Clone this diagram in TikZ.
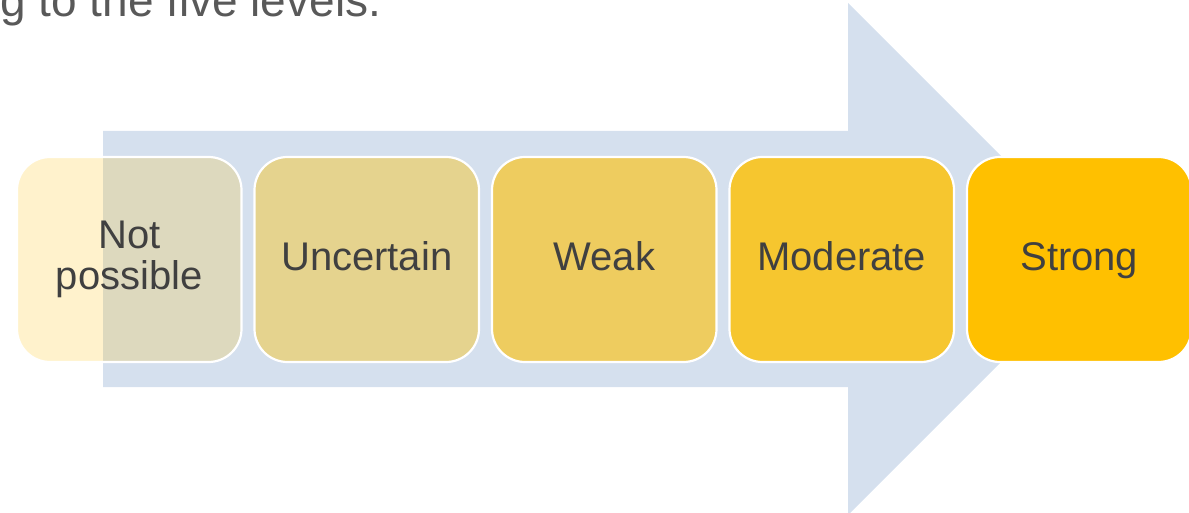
\documentclass[tikz,border=0pt]{standalone}
\usepackage{fontspec}
\setmainfont{Liberation Sans}
\definecolor{arrowblue}{HTML}{D5E0EE}
\definecolor{gold}{HTML}{FFC000}
\definecolor{txtgray}{HTML}{404040}
\definecolor{headgray}{HTML}{595959}
\begin{document}
\begin{tikzpicture}[x=1pt,y=-1pt,
  level/.style={draw=white, line width=2.2pt, fill=gold, rounded corners=33pt,
    minimum width=224.5pt, minimum height=205pt, inner sep=0pt,
    text=txtgray, text opacity=1, draw opacity=1, align=center,
    font=\fontsize{40}{41}\selectfont},
  oneline/.style={text height=28.6pt, text depth=6.4pt},
  heading/.style={text=headgray, font=\fontsize{46}{50}\selectfont, inner sep=0pt}]
\useasboundingbox (0,0) rectangle (1189,513);
\clip (0,0) rectangle (1189,513);
% big arrow
\fill[arrowblue] (103,131) -- (848,131) -- (848,3) -- (1104,259) -- (848,515)
  -- (848,387) -- (103,387) -- cycle;
% heading fragment
\node[heading, anchor=base west] (head) at (0,16.5) {g to the five levels.};
% levels
\node[level, fill opacity=0.2] (l1) at (129.25,259.5) {Not\\possible};
\node[level, oneline, fill opacity=0.4] (l2) at (366.75,259.5) {Uncertain};
\node[level, oneline, fill opacity=0.6] (l3) at (604.25,259.5) {Weak};
\node[level, oneline, fill opacity=0.8] (l4) at (841.75,259.5) {Moderate};
\node[level, oneline, fill opacity=1] (l5) at (1079.25,259.5) {Strong};
\end{tikzpicture}
\end{document}
